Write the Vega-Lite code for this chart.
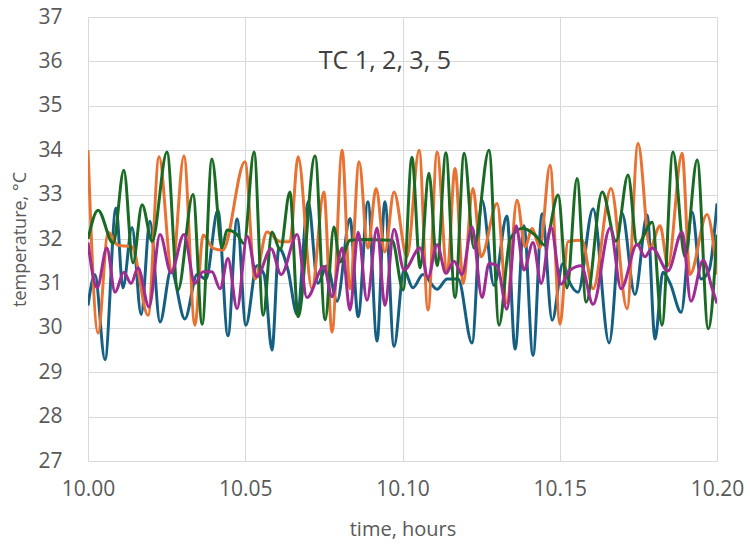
{
  "$schema": "https://vega.github.io/schema/vega-lite/v6.json",
  "width": 629,
  "height": 444,
  "autosize": "none",
  "padding": {"left": 88, "top": 17, "right": 33, "bottom": 85},
  "background": "white",
  "config": {
    "view": {"stroke": null},
    "font": "Open Sans",
    "axis": {
      "gridColor": "#D9D9D9",
      "gridWidth": 1,
      "domain": false,
      "ticks": false,
      "labelColor": "#595959",
      "titleColor": "#595959",
      "labelFont": "Open Sans",
      "titleFont": "Open Sans",
      "titleFontWeight": "normal",
      "labelFlush": false,
      "labelOverlap": false
    }
  },
  "datasets": {
    "temps": [
      {"s":"TC1","t":10.0000,"v":30.5},{"s":"TC1","t":10.0022,"v":31.2},{"s":"TC1","t":10.0054,"v":29.28},{"s":"TC1","t":10.0089,"v":32.7},{"s":"TC1","t":10.0111,"v":30.9},{"s":"TC1","t":10.0140,"v":32.26},{"s":"TC1","t":10.0169,"v":30.3},{"s":"TC1","t":10.0197,"v":32.4},{"s":"TC1","t":10.0229,"v":30.13},{"s":"TC1","t":10.0264,"v":31.3},{"s":"TC1","t":10.0308,"v":30.2},{"s":"TC1","t":10.0347,"v":31.2},{"s":"TC1","t":10.0375,"v":31.1},{"s":"TC1","t":10.0413,"v":32.65},{"s":"TC1","t":10.0445,"v":29.82},{"s":"TC1","t":10.0474,"v":32.45},{"s":"TC1","t":10.0502,"v":30.06},{"s":"TC1","t":10.0537,"v":31.4},{"s":"TC1","t":10.0560,"v":31.2},{"s":"TC1","t":10.0585,"v":29.5},{"s":"TC1","t":10.0607,"v":31.8},{"s":"TC1","t":10.0636,"v":31.3},{"s":"TC1","t":10.0665,"v":30.3},{"s":"TC1","t":10.0700,"v":32.84},{"s":"TC1","t":10.0731,"v":31.0},{"s":"TC1","t":10.0760,"v":31.4},{"s":"TC1","t":10.0792,"v":30.6},{"s":"TC1","t":10.0833,"v":32.46},{"s":"TC1","t":10.0859,"v":30.25},{"s":"TC1","t":10.0890,"v":32.84},{"s":"TC1","t":10.0919,"v":29.7},{"s":"TC1","t":10.0944,"v":32.84},{"s":"TC1","t":10.0973,"v":29.58},{"s":"TC1","t":10.1005,"v":31.3},{"s":"TC1","t":10.1033,"v":30.9},{"s":"TC1","t":10.1065,"v":31.2},{"s":"TC1","t":10.1110,"v":30.87},{"s":"TC1","t":10.1142,"v":31.1},{"s":"TC1","t":10.1177,"v":31.1},{"s":"TC1","t":10.1221,"v":29.66},{"s":"TC1","t":10.1253,"v":32.87},{"s":"TC1","t":10.1291,"v":30.95},{"s":"TC1","t":10.1332,"v":32.52},{"s":"TC1","t":10.1358,"v":29.52},{"s":"TC1","t":10.1386,"v":32.3},{"s":"TC1","t":10.1415,"v":29.38},{"s":"TC1","t":10.1444,"v":32.57},{"s":"TC1","t":10.1476,"v":30.17},{"s":"TC1","t":10.1510,"v":31.45},{"s":"TC1","t":10.1533,"v":31.0},{"s":"TC1","t":10.1558,"v":30.8},{"s":"TC1","t":10.1606,"v":32.68},{"s":"TC1","t":10.1657,"v":29.66},{"s":"TC1","t":10.1698,"v":32.58},{"s":"TC1","t":10.1739,"v":30.75},{"s":"TC1","t":10.1778,"v":32.54},{"s":"TC1","t":10.1803,"v":29.75},{"s":"TC1","t":10.1828,"v":31.25},{"s":"TC1","t":10.1851,"v":31.0},{"s":"TC1","t":10.1886,"v":30.35},{"s":"TC1","t":10.1921,"v":32.6},{"s":"TC1","t":10.1949,"v":31.1},{"s":"TC1","t":10.1975,"v":31.3},{"s":"TC1","t":10.2000,"v":32.8},

      {"s":"TC2","t":10.0000,"v":34.0},{"s":"TC2","t":10.0032,"v":29.88},{"s":"TC2","t":10.0064,"v":32.15},{"s":"TC2","t":10.0095,"v":31.86},{"s":"TC2","t":10.0140,"v":31.82},{"s":"TC2","t":10.0191,"v":30.28},{"s":"TC2","t":10.0226,"v":33.85},{"s":"TC2","t":10.0267,"v":31.26},{"s":"TC2","t":10.0305,"v":33.87},{"s":"TC2","t":10.0340,"v":30.06},{"s":"TC2","t":10.0366,"v":32.09},{"s":"TC2","t":10.0398,"v":31.79},{"s":"TC2","t":10.0429,"v":31.75},{"s":"TC2","t":10.0499,"v":33.74},{"s":"TC2","t":10.0531,"v":31.1},{"s":"TC2","t":10.0569,"v":32.16},{"s":"TC2","t":10.0611,"v":31.94},{"s":"TC2","t":10.0642,"v":31.94},{"s":"TC2","t":10.0668,"v":33.85},{"s":"TC2","t":10.0712,"v":30.88},{"s":"TC2","t":10.0750,"v":33.06},{"s":"TC2","t":10.0776,"v":29.9},{"s":"TC2","t":10.0808,"v":34.0},{"s":"TC2","t":10.0833,"v":30.88},{"s":"TC2","t":10.0862,"v":33.74},{"s":"TC2","t":10.0890,"v":31.79},{"s":"TC2","t":10.0916,"v":33.14},{"s":"TC2","t":10.0944,"v":31.71},{"s":"TC2","t":10.0973,"v":33.06},{"s":"TC2","t":10.1014,"v":31.6},{"s":"TC2","t":10.1053,"v":34.0},{"s":"TC2","t":10.1081,"v":30.4},{"s":"TC2","t":10.1110,"v":33.96},{"s":"TC2","t":10.1142,"v":31.23},{"s":"TC2","t":10.1167,"v":33.59},{"s":"TC2","t":10.1193,"v":31.0},{"s":"TC2","t":10.1224,"v":33.14},{"s":"TC2","t":10.1250,"v":31.6},{"s":"TC2","t":10.1301,"v":32.8},{"s":"TC2","t":10.1332,"v":30.56},{"s":"TC2","t":10.1364,"v":32.87},{"s":"TC2","t":10.1390,"v":31.82},{"s":"TC2","t":10.1412,"v":32.24},{"s":"TC2","t":10.1437,"v":31.8},{"s":"TC2","t":10.1469,"v":33.66},{"s":"TC2","t":10.1501,"v":30.08},{"s":"TC2","t":10.1526,"v":31.94},{"s":"TC2","t":10.1571,"v":31.97},{"s":"TC2","t":10.1606,"v":30.88},{"s":"TC2","t":10.1663,"v":33.14},{"s":"TC2","t":10.1714,"v":30.43},{"s":"TC2","t":10.1749,"v":34.15},{"s":"TC2","t":10.1787,"v":31.8},{"s":"TC2","t":10.1819,"v":32.3},{"s":"TC2","t":10.1844,"v":31.4},{"s":"TC2","t":10.1889,"v":33.93},{"s":"TC2","t":10.1914,"v":31.2},{"s":"TC2","t":10.1968,"v":32.55},{"s":"TC2","t":10.2000,"v":31.2},

      {"s":"TC3","t":10.0000,"v":32.0},{"s":"TC3","t":10.0032,"v":32.65},{"s":"TC3","t":10.0080,"v":31.9},{"s":"TC3","t":10.0114,"v":33.55},{"s":"TC3","t":10.0143,"v":31.46},{"s":"TC3","t":10.0172,"v":32.77},{"s":"TC3","t":10.0204,"v":31.95},{"s":"TC3","t":10.0251,"v":33.96},{"s":"TC3","t":10.0286,"v":30.85},{"s":"TC3","t":10.0334,"v":33.0},{"s":"TC3","t":10.0363,"v":30.08},{"s":"TC3","t":10.0394,"v":33.8},{"s":"TC3","t":10.0426,"v":31.8},{"s":"TC3","t":10.0442,"v":32.2},{"s":"TC3","t":10.0474,"v":32.1},{"s":"TC3","t":10.0496,"v":31.9},{"s":"TC3","t":10.0528,"v":33.96},{"s":"TC3","t":10.0557,"v":30.28},{"s":"TC3","t":10.0585,"v":32.16},{"s":"TC3","t":10.0611,"v":31.75},{"s":"TC3","t":10.0642,"v":33.06},{"s":"TC3","t":10.0668,"v":30.25},{"s":"TC3","t":10.0722,"v":33.87},{"s":"TC3","t":10.0754,"v":30.18},{"s":"TC3","t":10.0782,"v":32.27},{"s":"TC3","t":10.0801,"v":31.48},{"s":"TC3","t":10.0833,"v":31.97},{"s":"TC3","t":10.0881,"v":31.99},{"s":"TC3","t":10.0929,"v":31.98},{"s":"TC3","t":10.0967,"v":31.97},{"s":"TC3","t":10.1002,"v":30.85},{"s":"TC3","t":10.1030,"v":33.84},{"s":"TC3","t":10.1056,"v":31.35},{"s":"TC3","t":10.1084,"v":33.48},{"s":"TC3","t":10.1110,"v":31.4},{"s":"TC3","t":10.1138,"v":33.94},{"s":"TC3","t":10.1167,"v":30.68},{"s":"TC3","t":10.1196,"v":33.93},{"s":"TC3","t":10.1227,"v":31.8},{"s":"TC3","t":10.1275,"v":34.0},{"s":"TC3","t":10.1307,"v":30.06},{"s":"TC3","t":10.1342,"v":32.0},{"s":"TC3","t":10.1383,"v":32.24},{"s":"TC3","t":10.1421,"v":32.09},{"s":"TC3","t":10.1453,"v":31.86},{"s":"TC3","t":10.1495,"v":32.99},{"s":"TC3","t":10.1523,"v":30.9},{"s":"TC3","t":10.1555,"v":33.36},{"s":"TC3","t":10.1584,"v":30.58},{"s":"TC3","t":10.1635,"v":33.06},{"s":"TC3","t":10.1679,"v":31.95},{"s":"TC3","t":10.1717,"v":33.44},{"s":"TC3","t":10.1746,"v":31.86},{"s":"TC3","t":10.1794,"v":32.38},{"s":"TC3","t":10.1825,"v":30.06},{"s":"TC3","t":10.1860,"v":33.96},{"s":"TC3","t":10.1898,"v":31.6},{"s":"TC3","t":10.1937,"v":33.78},{"s":"TC3","t":10.1972,"v":29.98},{"s":"TC3","t":10.2000,"v":32.1},

      {"s":"TC5","t":10.0000,"v":31.92},{"s":"TC5","t":10.0029,"v":30.9},{"s":"TC5","t":10.0060,"v":31.8},{"s":"TC5","t":10.0086,"v":30.8},{"s":"TC5","t":10.0114,"v":31.25},{"s":"TC5","t":10.0137,"v":31.0},{"s":"TC5","t":10.0159,"v":31.35},{"s":"TC5","t":10.0194,"v":30.47},{"s":"TC5","t":10.0229,"v":32.1},{"s":"TC5","t":10.0264,"v":31.24},{"s":"TC5","t":10.0305,"v":32.1},{"s":"TC5","t":10.0340,"v":31.0},{"s":"TC5","t":10.0366,"v":31.26},{"s":"TC5","t":10.0394,"v":31.26},{"s":"TC5","t":10.0420,"v":30.88},{"s":"TC5","t":10.0445,"v":31.56},{"s":"TC5","t":10.0474,"v":30.43},{"s":"TC5","t":10.0506,"v":32.06},{"s":"TC5","t":10.0537,"v":31.15},{"s":"TC5","t":10.0582,"v":31.78},{"s":"TC5","t":10.0614,"v":31.2},{"s":"TC5","t":10.0665,"v":32.1},{"s":"TC5","t":10.0696,"v":30.68},{"s":"TC5","t":10.0750,"v":31.38},{"s":"TC5","t":10.0776,"v":30.7},{"s":"TC5","t":10.0808,"v":31.8},{"s":"TC5","t":10.0833,"v":30.4},{"s":"TC5","t":10.0859,"v":32.15},{"s":"TC5","t":10.0887,"v":30.62},{"s":"TC5","t":10.0919,"v":32.25},{"s":"TC5","t":10.0944,"v":30.5},{"s":"TC5","t":10.0973,"v":32.22},{"s":"TC5","t":10.1005,"v":31.3},{"s":"TC5","t":10.1056,"v":31.8},{"s":"TC5","t":10.1081,"v":31.13},{"s":"TC5","t":10.1110,"v":31.87},{"s":"TC5","t":10.1138,"v":31.23},{"s":"TC5","t":10.1164,"v":31.5},{"s":"TC5","t":10.1189,"v":31.2},{"s":"TC5","t":10.1221,"v":32.27},{"s":"TC5","t":10.1253,"v":30.68},{"s":"TC5","t":10.1275,"v":31.45},{"s":"TC5","t":10.1301,"v":31.4},{"s":"TC5","t":10.1332,"v":30.42},{"s":"TC5","t":10.1361,"v":32.3},{"s":"TC5","t":10.1386,"v":31.3},{"s":"TC5","t":10.1415,"v":31.92},{"s":"TC5","t":10.1441,"v":31.0},{"s":"TC5","t":10.1472,"v":32.27},{"s":"TC5","t":10.1504,"v":30.98},{"s":"TC5","t":10.1533,"v":31.3},{"s":"TC5","t":10.1568,"v":31.4},{"s":"TC5","t":10.1606,"v":30.53},{"s":"TC5","t":10.1660,"v":32.25},{"s":"TC5","t":10.1695,"v":30.88},{"s":"TC5","t":10.1746,"v":31.88},{"s":"TC5","t":10.1771,"v":31.6},{"s":"TC5","t":10.1794,"v":31.8},{"s":"TC5","t":10.1844,"v":31.28},{"s":"TC5","t":10.1889,"v":32.16},{"s":"TC5","t":10.1917,"v":30.6},{"s":"TC5","t":10.1956,"v":31.52},{"s":"TC5","t":10.1984,"v":30.9},{"s":"TC5","t":10.2000,"v":30.55}
    ],
    "label": [
      {"t": 10.0944, "v": 36.0, "text": "TC 1, 2, 3, 5"}
    ]
  },
  "layer": [
    {
      "data": {"name": "temps"},
      "mark": {"type": "line", "interpolate": "monotone", "strokeWidth": 3, "clip": true},
      "encoding": {
        "x": {
          "field": "t", "type": "quantitative",
          "scale": {"domain": [10, 10.2], "nice": false, "zero": false},
          "axis": {
            "values": [10, 10.05, 10.1, 10.15, 10.2],
            "format": ".2f",
            "title": "time, hours",
            "labelFontSize": 21,
            "labelPadding": 17,
            "titleFontSize": 20,
            "titlePadding": 20
          }
        },
        "y": {
          "field": "v", "type": "quantitative",
          "scale": {"domain": [27, 37], "nice": false, "zero": false},
          "axis": {
            "values": [27, 28, 29, 30, 31, 32, 33, 34, 35, 36, 37],
            "title": "temperature, °C",
            "labelFontSize": 21,
            "labelPadding": 26,
            "titleFontSize": 18,
            "titlePadding": 8
          }
        },
        "color": {
          "field": "s", "type": "nominal",
          "scale": {"domain": ["TC1", "TC2", "TC3", "TC5"], "range": ["#156082", "#E97132", "#196B24", "#A02B93"]},
          "legend": null
        }
      }
    },
    {
      "data": {"name": "label"},
      "mark": {"type": "text", "fontSize": 25, "color": "#404040", "font": "Open Sans", "baseline": "middle", "align": "center"},
      "encoding": {
        "x": {"field": "t", "type": "quantitative"},
        "y": {"field": "v", "type": "quantitative"},
        "text": {"field": "text"}
      }
    }
  ]
}
